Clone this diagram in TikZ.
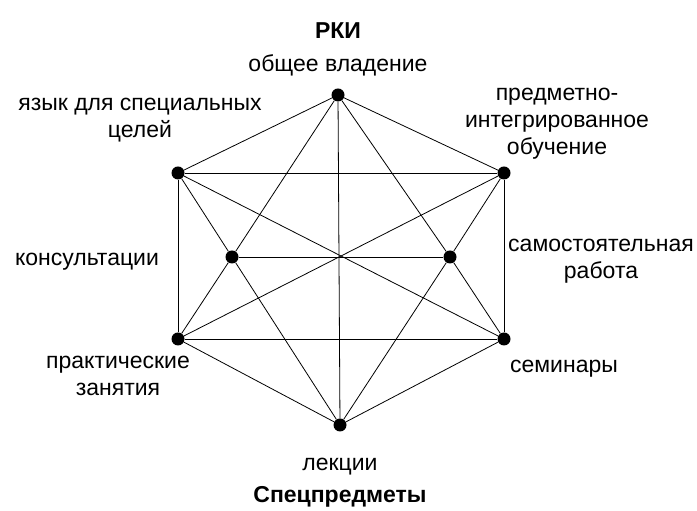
\documentclass[tikz,border=0pt]{standalone}
\usepackage{fontspec}
\setmainfont{Liberation Sans}
\usetikzlibrary{positioning}
\begin{document}
\begin{tikzpicture}
        % Define styles for nodes and edges
        \tikzstyle{dot} = [circle, fill=black, inner sep=0pt, minimum size=13pt]
        \tikzstyle{link} = [line width=0.8pt]
        \tikzstyle{lbl} = [font=\fontsize{23}{27}\selectfont, align=center, inner sep=0pt]
        \tikzstyle{head} = [font=\fontsize{23}{27}\selectfont\bfseries, inner sep=0pt]
        \useasboundingbox (0pt,0pt) rectangle (697pt,511pt);

        % Nodes
        \node[dot] (obshchee) at (338pt,416pt) {};
        \node[dot] (yazyk) at (178pt,338pt) {};
        \node[dot] (predmet) at (504pt,338pt) {};
        \node[dot] (konsult) at (232pt,254pt) {};
        \node[dot] (samost) at (450pt,254pt) {};
        \node[dot] (praktik) at (178pt,172pt) {};
        \node[dot] (seminar) at (504pt,172pt) {};
        \node[dot] (lekcii) at (340pt,86pt) {};

        % Links
        \foreach \a/\b in {obshchee/yazyk, obshchee/predmet, obshchee/konsult, obshchee/samost, obshchee/lekcii,
                yazyk/predmet, yazyk/praktik, yazyk/konsult, yazyk/seminar,
                predmet/seminar, predmet/samost, predmet/praktik,
                konsult/praktik, konsult/lekcii, konsult/samost,
                samost/seminar, samost/lekcii,
                praktik/seminar, praktik/lekcii, seminar/lekcii}
            \draw[link] (\a) -- (\b);

        % Labels
        \node[head] (rki) at (338pt,480pt) {РКИ};
        \node[lbl, above=12pt of obshchee] (obshchee-l) {общее владение};
        \node[lbl] (yazyk-l) at (140pt,391pt) {язык для специальных\\целей};
        \node[lbl] (predmet-l) at (557pt,387pt) {предметно-\\интегрированное\\обучение};
        \node[lbl] (konsult-l) at (87pt,249pt) {консультации};
        \node[lbl] (samost-l) at (601pt,250pt) {самостоятельная\\работа};
        \node[lbl] (praktik-l) at (118pt,135pt) {практические\\занятия};
        \node[lbl] (seminar-l) at (564pt,142pt) {семинары};
        \node[lbl, below=26pt of lekcii] (lekcii-l) {лекции};
        \node[head] (spec) at (340pt,14pt) {Спецпредметы};
\end{tikzpicture}
\end{document}
